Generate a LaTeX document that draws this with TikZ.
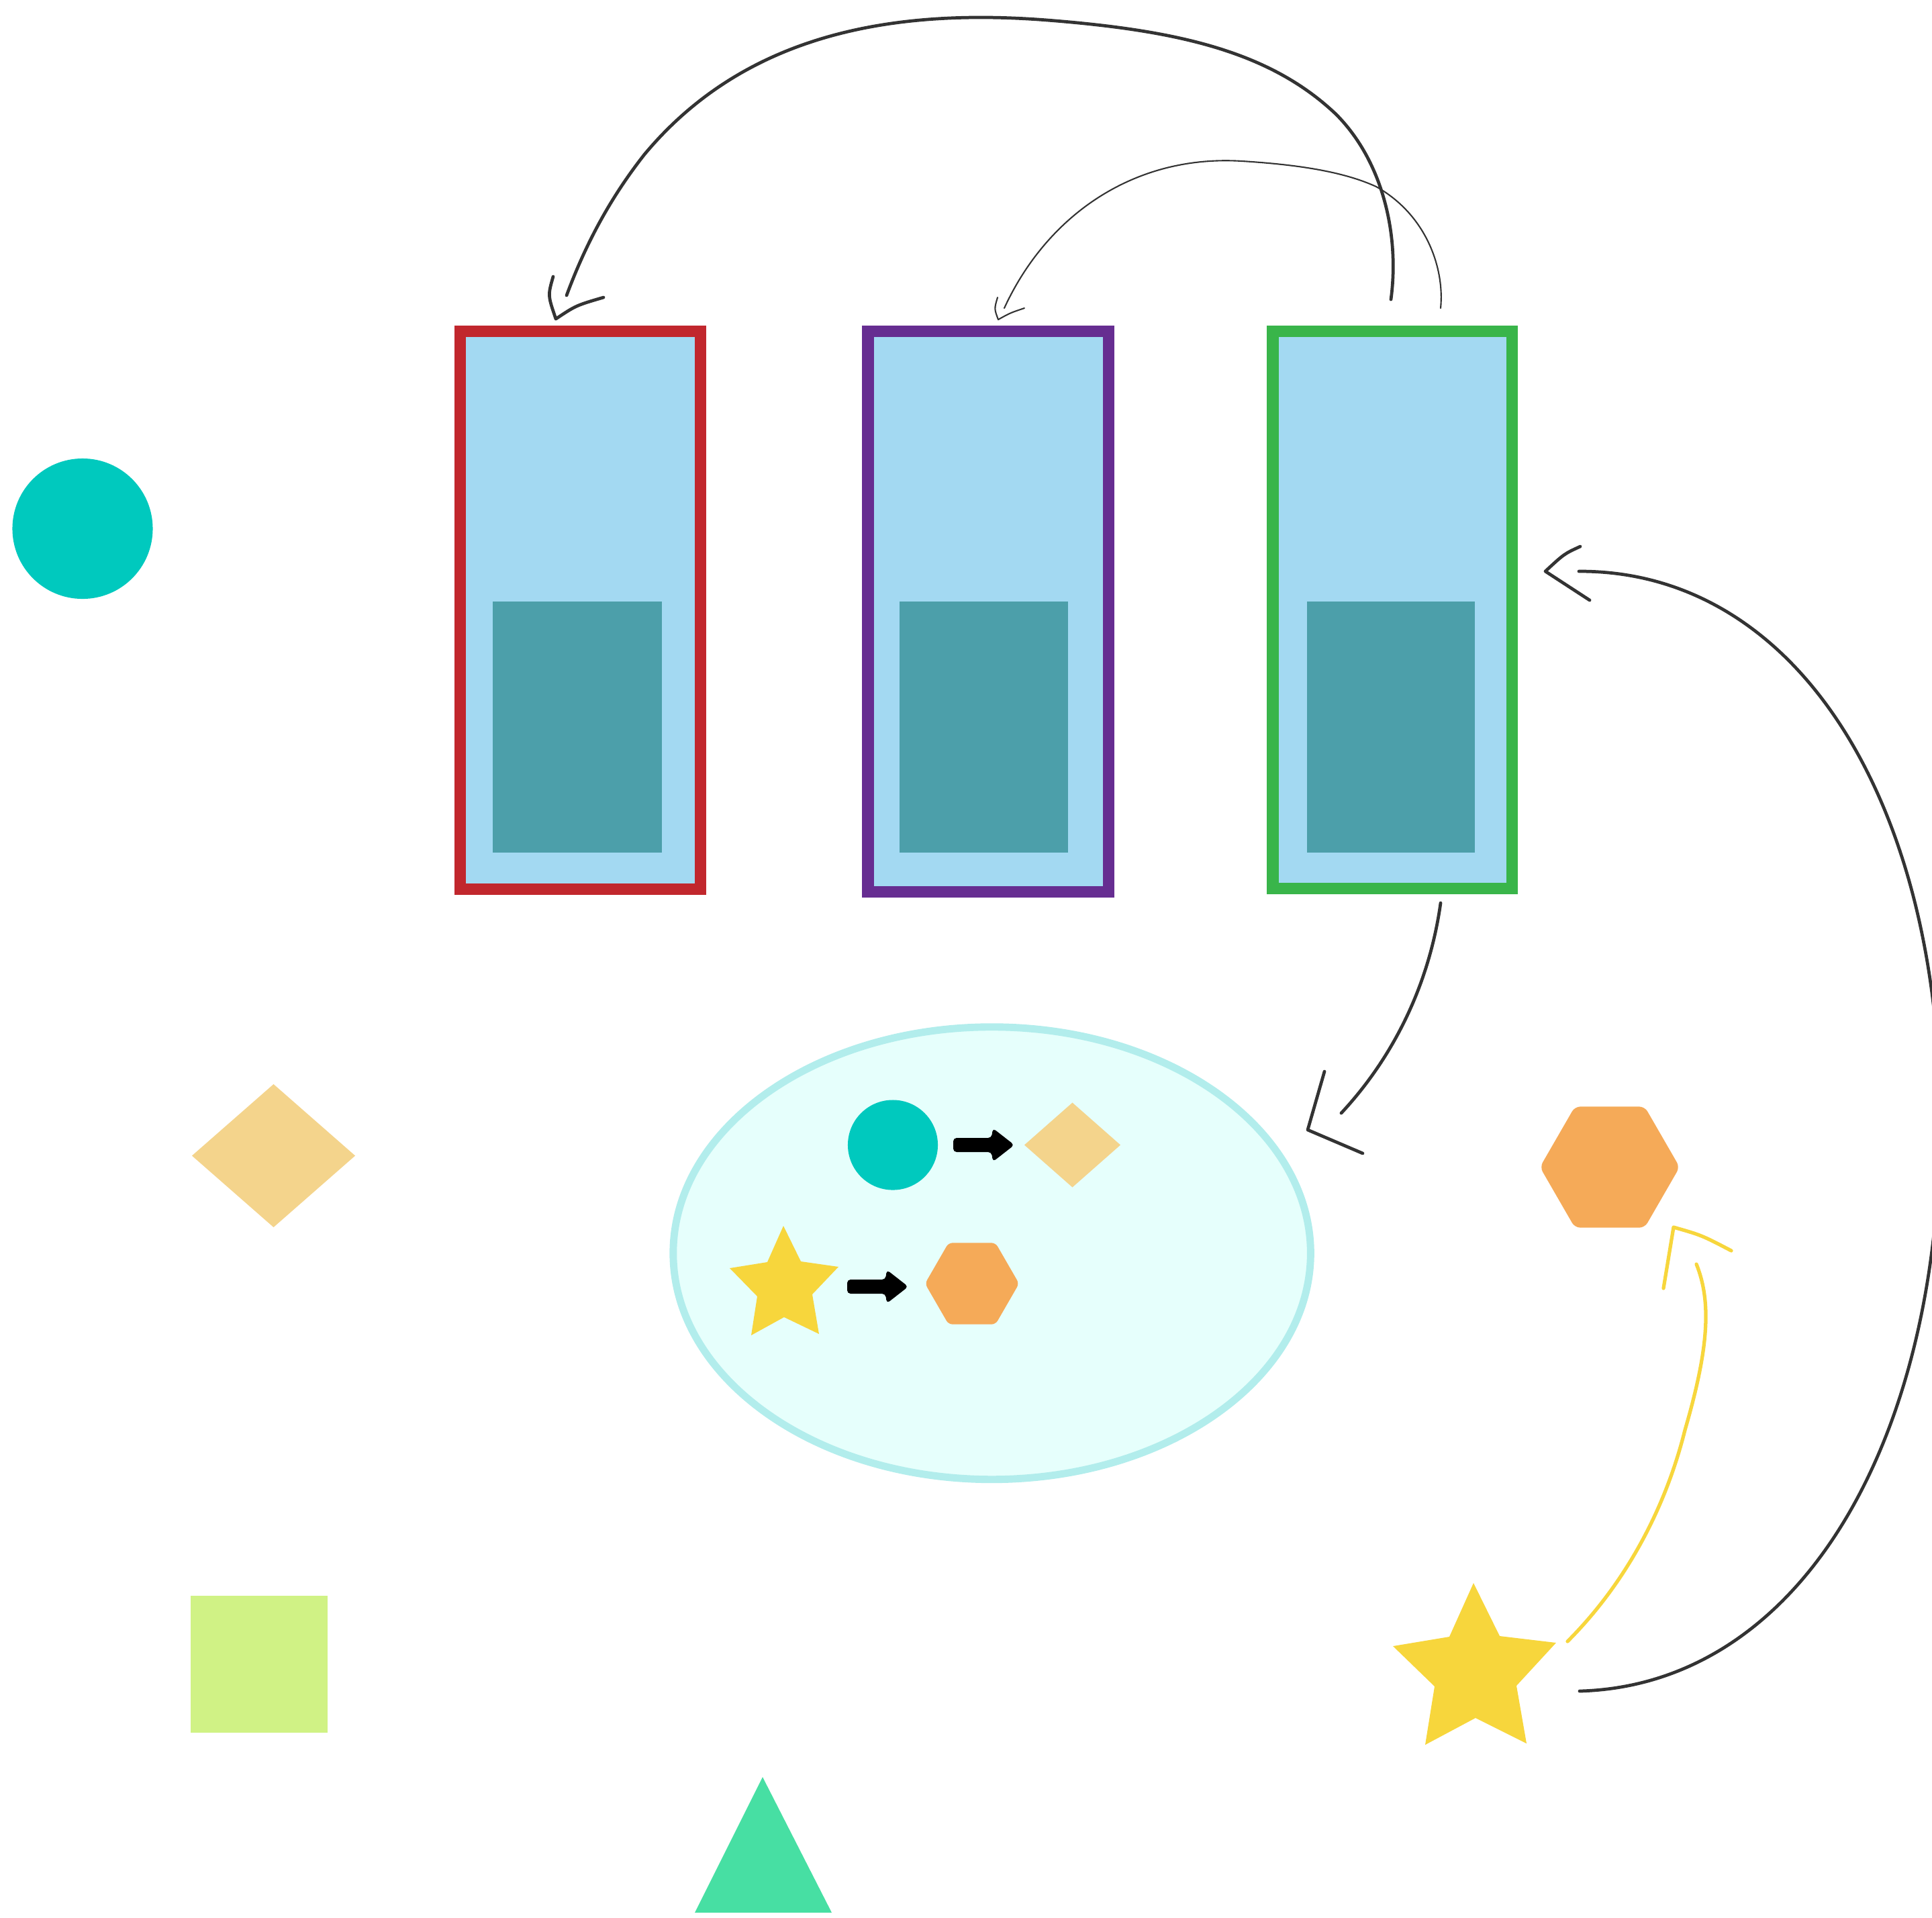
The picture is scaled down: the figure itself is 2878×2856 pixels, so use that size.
\documentclass[tikz,border=0pt]{standalone}
\usetikzlibrary{shapes.geometric}

\definecolor{skyfill}{HTML}{A3D9F2}
\definecolor{corefill}{HTML}{4C9FAA}
\definecolor{redline}{HTML}{C1272D}
\definecolor{purpleline}{HTML}{662D91}
\definecolor{greenline}{HTML}{39B54A}
\definecolor{tealdot}{HTML}{00C9BE}
\definecolor{sandfill}{HTML}{F4D48C}
\definecolor{limefill}{HTML}{D0F285}
\definecolor{mintfill}{HTML}{47DFA3}
\definecolor{sunfill}{HTML}{F7D63C}
\definecolor{orangefill}{HTML}{F5AA58}
\definecolor{poolfill}{HTML}{E6FFFC}
\definecolor{poolline}{HTML}{B2EDEC}
\definecolor{inkline}{HTML}{333333}

\tikzset{
  panel/.style={rectangle, draw, fill=skyfill, line width=4.9pt, inner sep=0pt},
  core/.style={rectangle, fill=corefill, inner sep=0pt},
  blob/.style={inner sep=0pt, outer sep=0pt},
  wire/.style={draw=inkline, line width=1.35pt, line cap=round, line join=round},
  thinwire/.style={draw=inkline, line width=0.6pt, line cap=round, line join=round},
  sunwire/.style={draw=sunfill, line width=1.5pt, line cap=round, line join=round},
  blockarrow/.pic={
    \fill[black, rounded corners=0.5mm]
      (0,-10.5) -- (57,-10.5) -- (59,-25) -- (91,0) -- (59,25) -- (57,10.5) -- (0,10.5) -- cycle;
  }
}

\begin{document}
\begin{tikzpicture}[x=0.01cm, y=-0.01cm]
\useasboundingbox (0,0) rectangle (2878,2856);
\clip (0,0) rectangle (2878,2856);

% three framed panels with their inner blocks
\node[panel, draw=redline, minimum width=3.58cm, minimum height=8.306cm] (boxA) at (864.5,909) {};
\node[core, minimum width=2.52cm, minimum height=3.74cm] (coreA) at (860,1083) {};
\node[panel, draw=purpleline, minimum width=3.58cm, minimum height=8.34cm] (boxB) at (1472,911) {};
\node[core, minimum width=2.51cm, minimum height=3.74cm] (coreB) at (1465.5,1083) {};
\node[panel, draw=greenline, minimum width=3.56cm, minimum height=8.29cm] (boxC) at (2074,908.5) {};
\node[core, minimum width=2.50cm, minimum height=3.74cm] (coreC) at (2072,1083) {};

% loose shapes on the left and bottom
\node[blob, circle, fill=tealdot, minimum size=2.09cm] (dot) at (123,787.5) {};
\node[blob, diamond, fill=sandfill, minimum width=2.43cm, minimum height=2.13cm] (kite) at (407.5,1721.5) {};
\node[blob, rectangle, fill=limefill, minimum size=2.037cm] (tile) at (386,2479) {};
\coordinate (peak) at (1136,2747);
\fill[mintfill] (1136,2647) -- (1239,2849) -- (1035,2849) -- cycle;

% the pool with its two mappings
\node[blob, ellipse, draw=poolline, fill=poolfill, line width=3.1pt,
      minimum width=9.49cm, minimum height=6.736cm] (pool) at (1477.6,1866.7) {};
\node[blob, circle, fill=tealdot, minimum size=1.34cm] (srcA) at (1330,1705.5) {};
\node[blob, diamond, fill=sandfill, minimum width=1.43cm, minimum height=1.26cm] (dstA) at (1597.5,1705.5) {};
\coordinate (srcB) at (1167,1905);
\fill[sunfill] (1167,1826) -- (1193,1879) -- (1249,1887) -- (1210,1928) -- (1220,1987)
  -- (1168,1962) -- (1119,1989) -- (1128,1931) -- (1087,1889) -- (1143,1880) -- cycle;
\node[blob, regular polygon, regular polygon sides=6, fill=orangefill,
      minimum size=1.40cm, rounded corners=0.6mm] (dstB) at (1448,1912) {};
\pic at (1420,1705.5) {blockarrow};
\pic at (1262,1916.5) {blockarrow};

% shapes on the right
\node[blob, regular polygon, regular polygon sides=6, fill=orangefill,
      minimum size=2.08cm, rounded corners=0.8mm] (hexR) at (2398,1738.5) {};
\coordinate (starR) at (2196,2490);
\fill[sunfill] (2195,2358) -- (2234,2437) -- (2318,2447) -- (2259,2511) -- (2274,2597)
  -- (2198,2559) -- (2123,2599) -- (2137,2512) -- (2075,2452) -- (2159,2438) -- cycle;

% connector end points
\coordinate (c1s) at (2072,446);   \coordinate (c1e) at (844,440);
\coordinate (c1t) at (828,475);
\coordinate (c2s) at (2146,459);   \coordinate (c2e) at (1496,459);
\coordinate (c2t) at (1487,476);
\coordinate (c3s) at (2146,1345);  \coordinate (c3e) at (1998,1658);
\coordinate (c3t) at (1948,1683);
\coordinate (c4s) at (2353,2519);  \coordinate (c4e) at (2352,851);
\coordinate (c4t) at (2302,851);
\coordinate (c5s) at (2335,2445);  \coordinate (c5e) at (2527,1883);
\coordinate (c5t) at (2493,1828);

% green panel -> red panel (long arc over the top)
\draw[wire] (c1s) .. controls (2085,350) and (2060,240) .. (1990,170)
  .. controls (1890,75) and (1750,45) .. (1560,30)
  .. controls (1330,12) and (1110,50) .. (960,230)
  .. controls (905,300) and (870,370) .. (c1e);
\draw[wire] (824,412) .. controls (816,440) .. (c1t) .. controls (858,455) .. (899,443);

% green panel -> purple panel (short arc)
\draw[thinwire] (c2s) .. controls (2152,400) and (2125,320) .. (2050,278)
  .. controls (2000,255) and (1930,245) .. (1850,240)
  .. controls (1690,230) and (1560,320) .. (c2e);
\draw[thinwire] (1486,443) .. controls (1481,460) .. (c2t) .. controls (1505,466) .. (1526,459);

% green panel -> pool
\draw[wire] (c3s) .. controls (2130,1460) and (2080,1570) .. (c3e);
\draw[wire] (1973,1596) -- (c3t) -- (2030,1718);

% star -> green panel (wide arc on the right)
\draw[wire] (c4s) .. controls (2680,2510) and (2890,2150) .. (2890,1668)
  .. controls (2890,1200) and (2680,850) .. (c4e);
\draw[wire] (2354,814) .. controls (2330,825) .. (c4t) -- (2368,894);

% star -> hexagon
\draw[sunwire] (c5s) .. controls (2420,2360) and (2480,2250) .. (2510,2130)
  .. controls (2545,2010) and (2550,1940) .. (c5e);
\draw[sunwire] (2478,1919) -- (c5t) .. controls (2535,1840) .. (2579,1863);
\end{tikzpicture}
\end{document}
